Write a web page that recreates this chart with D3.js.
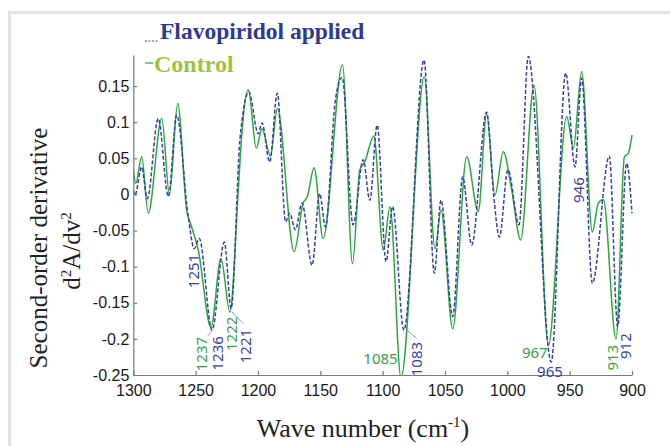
<!DOCTYPE html>
<html>
<head>
<meta charset="utf-8">
<script src="https://cdn.jsdelivr.net/npm/d3@7"></script>
<style>
  body { margin: 0; background: #fff; }
  .axis text { font-family: "Liberation Sans", Arial, sans-serif; font-size: 16px; fill: #1a1a1a; }
  .axis path, .axis line { stroke: #7a7a7a; stroke-width: 1.2; }
  .peak { font-family: "Noto Sans", "Open Sans", sans-serif; font-size: 15px; }
  .title { font-family: "Liberation Serif", "DejaVu Serif", serif; }
</style>
</head>
<body>
<svg id="chart" width="670" height="446"></svg>
<script>
// wave numbers (cm-1) and second-derivative values at turning points
const flavoWave = [1300, 1298.7, 1293.3, 1288.8, 1280, 1271.9, 1265.2, 1256, 1251.1, 1247.1, 1236.8, 1227, 1221.5, 1214.5, 1207.3,
  1199.8, 1196.8, 1190.6, 1184.5, 1177.8, 1174.6, 1170, 1164.7, 1156.6, 1150.5, 1145.9, 1138, 1132.5, 1123.7, 1115.6,
  1110.3, 1104.4, 1097.3, 1092, 1083, 1066.8, 1058.6, 1053.2, 1043.8, 1035.8, 1028.6, 1016.6, 1011, 1006.4, 999.5,
  990.6, 983.2, 964.8, 953.2, 945.7, 940.4, 931.8, 918.2, 911.5, 904.3, 900];
const flavoValue = [0.006, -0.001, 0.038, -0.006, 0.105, -0.003, 0.11, -0.03, -0.075, -0.061, -0.188, -0.066, -0.158, 0.075, 0.142,
  0.084, 0.099, 0.045, 0.14, -0.038, -0.026, -0.049, -0.012, -0.098, 0.001, -0.045, 0.13, 0.162, -0.042, 0.048,
  -0.008, 0.096, -0.093, -0.017, -0.188, 0.186, -0.109, -0.008, -0.169, 0.024, -0.07, 0.114, 0.0, -0.059, 0.034,
  -0.042, 0.191, -0.232, 0.168, 0.038, 0.161, -0.123, 0.053, -0.183, 0.043, -0.026];

const controlWave = [1300, 1298, 1293.3, 1288, 1277.2, 1271, 1264.4, 1257.2, 1253.2, 1247.9, 1237.7, 1229.7, 1222.5, 1215.8, 1213.1,
  1207.8, 1201.3, 1196.8, 1190, 1184.5, 1171, 1163.8, 1160.4, 1155, 1147.8, 1132.2, 1124.2, 1118.3, 1114.3, 1107.1,
  1099.5, 1094.1, 1085.3, 1066.6, 1058, 1053.2, 1043.8, 1032.6, 1023.3, 1016.6, 1009.9, 1003.2, 996.5, 989.3, 978.6,
  967.1, 952.4, 947, 940.4, 931.8, 927, 923, 912.8, 906.1, 902.9, 900];
const controlValue = [0.034, 0.015, 0.052, -0.026, 0.105, 0.0, 0.126, -0.022, -0.045, -0.077, -0.184, -0.089, -0.163, 0.006, 0.08,
  0.145, 0.064, 0.091, 0.053, 0.119, -0.079, -0.012, -0.003, 0.037, -0.061, 0.179, -0.096, 0.034, 0.045, 0.081,
  -0.077, -0.017, -0.254, 0.163, -0.075, -0.022, -0.186, 0.052, -0.024, 0.112, -0.001, 0.059, 0.006, -0.063, 0.151,
  -0.209, 0.108, 0.064, 0.17, -0.052, -0.012, -0.007, -0.2, 0.052, 0.057, 0.082];

const yTicks = [0.15, 0.1, 0.05, 0, -0.05, -0.1, -0.15, -0.2, -0.25];
const yTickLabels = ['0.15', '0.1', '0.05', '0', '-0.05', '-0.1', '-0.15', '-0.2', '-0.25'];
const xTicks = [1300, 1250, 1200, 1150, 1100, 1050, 1000, 950, 900];

// peak labels: text, series, anchor wave number / value, rotated or not
const peakText = ['1251', '1237', '1236', '1222', '1221', '1085', '1083', '967', '965', '946', '913', '912'];
const peakSeries = ['flavo', 'control', 'flavo', 'control', 'flavo', 'control', 'flavo', 'control', 'flavo', 'flavo', 'control', 'flavo'];
const peakWave = [1252.1, 1245.7, 1232.9, 1221.6, 1210.4, 1101.7, 1072.9, 978, 965.8, 943.7, 915.7, 905.6];
const peakValue = [-0.106, -0.221, -0.22, -0.193, -0.21, -0.227, -0.228, -0.2175, -0.245, 0.006, -0.226, -0.21];
const peakRotated = [true, true, true, true, true, false, true, false, false, true, true, true];

// thin leader lines from a minimum to its label
const leaderFrom = [[1237.4, -0.19], [1221.1, -0.1625], [1080.7, -0.1877]];
const leaderTo = [[1240.3, -0.196], [1211.8, -0.179], [1072.7, -0.1993]];

const colors = { flavo: '#3443a3', control: '#2ea83e', flavoText: '#3a42a0', controlText: '#36a048', legendControl: '#9cc63c', legendFlavo: '#2e3990' };

const svg = d3.select('#chart');

// panel frame
svg.append('line').attr('x1', 9.5).attr('x2', 9.5).attr('y1', 12).attr('y2', 446)
  .attr('stroke', '#e4e4e4').attr('stroke-width', 3);
svg.append('line').attr('x1', 8).attr('x2', 670).attr('y1', 12.5).attr('y2', 12.5)
  .attr('stroke', '#e4e4e4').attr('stroke-width', 3);

const margin = { top: 55, left: 133.3, right: 632, bottom: 375 };

const x = d3.scaleLinear().domain([1300, 900]).range([margin.left, margin.right]);
const y = d3.scaleLinear().domain([-0.25, 0.193]).range([margin.bottom, margin.top]);

const flavo = flavoWave.map((w, i) => ({ w, v: flavoValue[i] }));
const control = controlWave.map((w, i) => ({ w, v: controlValue[i] }));

svg.append('defs').append('clipPath').attr('id', 'plot-clip')
  .append('rect').attr('x', margin.left).attr('y', 0)
  .attr('width', margin.right - margin.left + 2).attr('height', margin.bottom + 1);

const line = d3.line().x(d => x(d.w)).y(d => y(d.v)).curve(d3.curveMonotoneX);

const plot = svg.append('g').attr('clip-path', 'url(#plot-clip)');
plot.append('path').datum(control)
  .attr('d', line).attr('fill', 'none')
  .attr('stroke', colors.control).attr('stroke-width', 1.5);
plot.append('path').datum(flavo)
  .attr('d', line).attr('fill', 'none')
  .attr('stroke', colors.flavo).attr('stroke-width', 1.5)
  .attr('stroke-dasharray', '4,2');

// axes
svg.append('g')
  .attr('class', 'axis')
  .attr('transform', `translate(${margin.left},0)`)
  .call(d3.axisLeft(y).tickValues(yTicks).tickFormat((d, i) => yTickLabels[i])
    .tickSizeInner(-4).tickSizeOuter(0).tickPadding(4));

svg.append('g')
  .attr('class', 'axis')
  .attr('transform', `translate(0,${margin.bottom})`)
  .call(d3.axisBottom(x).tickValues(xTicks).tickFormat(d3.format('d'))
    .tickSizeInner(-4).tickSizeOuter(0).tickPadding(10));

// leaders and peak labels
leaderFrom.forEach((p, i) => {
  svg.append('line')
    .attr('x1', x(p[0])).attr('y1', y(p[1]))
    .attr('x2', x(leaderTo[i][0])).attr('y2', y(leaderTo[i][1]))
    .attr('stroke', '#5a86cc').attr('stroke-width', 0.8);
});

peakText.forEach((t, i) => {
  const px = x(peakWave[i]), py = y(peakValue[i]);
  svg.append('text')
    .attr('class', 'peak')
    .attr('x', px).attr('y', py)
    .attr('text-anchor', 'middle')
    .attr('dominant-baseline', 'central')
    .attr('transform', peakRotated[i] ? `rotate(-90,${px},${py})` : null)
    .style('fill', peakSeries[i] === 'flavo' ? colors.flavoText : colors.controlText)
    .text(t);
});

// axis titles
svg.append('text')
  .attr('class', 'title')
  .attr('transform', 'translate(47,248) rotate(-90)')
  .attr('text-anchor', 'middle')
  .attr('font-size', '25px')
  .style('fill', '#222')
  .text('Second-order derivative');

const ylab = svg.append('text')
  .attr('class', 'title')
  .attr('transform', 'translate(80,251) rotate(-90)')
  .attr('text-anchor', 'middle')
  .attr('font-size', '25px')
  .style('fill', '#222');
ylab.append('tspan').text('d');
ylab.append('tspan').attr('font-size', '15px').attr('dy', -9).text('2');
ylab.append('tspan').attr('dy', 9).text('A/dv');
ylab.append('tspan').attr('font-size', '15px').attr('dy', -9).text('2');

const xlab = svg.append('text')
  .attr('class', 'title')
  .attr('x', 363).attr('y', 437)
  .attr('text-anchor', 'middle')
  .attr('font-size', '26px')
  .style('fill', '#222');
xlab.append('tspan').text('Wave number (cm');
xlab.append('tspan').attr('font-size', '15px').attr('dy', -10).text('-1');
xlab.append('tspan').attr('dy', 10).text(')');

// legend
svg.append('line').attr('x1', 145).attr('x2', 159).attr('y1', 41).attr('y2', 41)
  .attr('stroke', colors.flavo).attr('stroke-width', 1.2).attr('stroke-dasharray', '2,1.5');
svg.append('text')
  .attr('class', 'title')
  .attr('x', 160).attr('y', 39)
  .attr('font-size', '23.5px').attr('font-weight', 'bold')
  .style('fill', colors.legendFlavo)
  .text('Flavopiridol applied');

svg.append('line').attr('x1', 145).attr('x2', 153).attr('y1', 63).attr('y2', 63)
  .attr('stroke', colors.control).attr('stroke-width', 1.2);
svg.append('text')
  .attr('class', 'title')
  .attr('x', 154).attr('y', 72)
  .attr('font-size', '24px').attr('font-weight', 'bold')
  .style('fill', colors.legendControl)
  .text('Control');
</script>
</body>
</html>
